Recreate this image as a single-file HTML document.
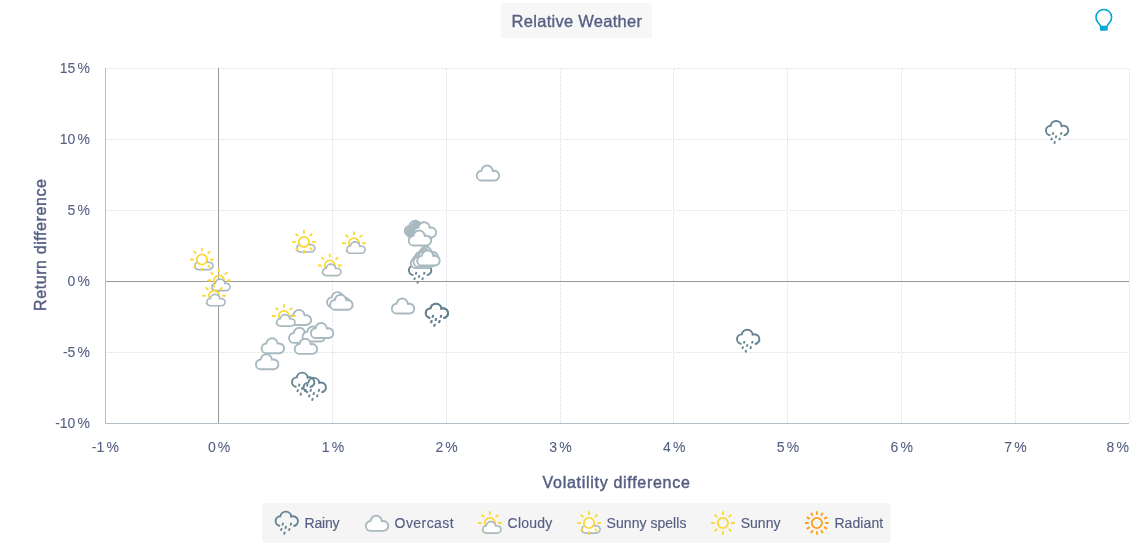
<!DOCTYPE html>
<html lang="en"><head><meta charset="utf-8"><title>Relative Weather</title>
<style>html,body{margin:0;padding:0;background:#fff}body{width:1147px;height:552px;overflow:hidden}svg{display:block}text{font-family:"Liberation Sans", Arial, sans-serif;fill:#545f83}.lg,.at{stroke:#545f83;stroke-width:.15px}.lg{font-size:14px}.at{font-size:16px;stroke-width:.45px}.ax{font-size:14px;word-spacing:-1.7px;stroke:#545f83;stroke-width:.08px}.gl{stroke:#e8e8ed;stroke-width:1;stroke-dasharray:3 1;fill:none}.oc{fill:#fff;stroke:#a9b9c0;stroke-width:1.9;stroke-linejoin:round}.sc{fill:#fff;stroke:#a9b9c0;stroke-width:1.6;stroke-linejoin:round}.rn{fill:none;stroke:#658392}.rc{stroke-width:1.9}.rd{stroke-width:1.85}.sn{fill:none;stroke:#fdd835;stroke-width:1.85}.wf{fill:#fff}.ra{fill:none;stroke:#fba21b;stroke-width:1.85}</style>
</head><body>
<svg width="1147" height="552" viewBox="0 0 1147 552">
<rect x="501" y="3" width="151" height="35" fill="#f7f7f7"/>
<text x="576.8" y="27" text-anchor="middle" font-size="16.5" textLength="130.4" lengthAdjust="spacing" stroke="#545f83" stroke-width="0.35">Relative Weather</text>
<g transform="translate(1103.8 17.3)"><path d="M-3.4 8.8C-3.6 7.2 -4.8 6.4 -6.2 4.7A7.8 7.8 0 1 1 6.2 4.7C4.8 6.4 3.6 7.2 3.4 8.8" fill="none" stroke="#00a8d6" stroke-width="1.6"/><path d="M-3.95 8.5h7.9v3.4a1.6 1.6 0 0 1 -1.6 1.6h-4.7a1.6 1.6 0 0 1 -1.6 -1.6z" fill="#00a8d6"/></g>
<path class="gl" d="M332.5 68 V423"/>
<path class="gl" d="M446.5 68 V423"/>
<path class="gl" d="M560.5 68 V423"/>
<path class="gl" d="M673.5 68 V423"/>
<path class="gl" d="M787.5 68 V423"/>
<path class="gl" d="M901.5 68 V423"/>
<path class="gl" d="M1015.5 68 V423"/>
<path class="gl" d="M1129.5 68 V423"/>
<path class="gl" d="M105 68.5 H1129"/>
<path class="gl" d="M105 139.5 H1129"/>
<path class="gl" d="M105 210.5 H1129"/>
<path class="gl" d="M105 352.5 H1129"/>
<path d="M218.5 68 V423" stroke="#999999" stroke-width="1" fill="none"/>
<path d="M105 281.5 H1129" stroke="#999999" stroke-width="1" fill="none"/>
<path d="M105.5 68 V424" stroke="#b3c0c8" stroke-width="1" fill="none"/>
<path d="M105 423.5 H1129" stroke="#b3c0c8" stroke-width="1" fill="none"/>
<text class="ax" x="90" y="72.9" text-anchor="end">15 %</text>
<text class="ax" x="90" y="143.9" text-anchor="end">10 %</text>
<text class="ax" x="90" y="214.9" text-anchor="end">5 %</text>
<text class="ax" x="90" y="285.9" text-anchor="end">0 %</text>
<text class="ax" x="90" y="356.9" text-anchor="end">-5 %</text>
<text class="ax" x="90" y="427.9" text-anchor="end">-10 %</text>
<text class="ax" x="105.3" y="452.1" text-anchor="middle">-1 %</text>
<text class="ax" x="219.1" y="452.1" text-anchor="middle">0 %</text>
<text class="ax" x="332.9" y="452.1" text-anchor="middle">1 %</text>
<text class="ax" x="446.6" y="452.1" text-anchor="middle">2 %</text>
<text class="ax" x="560.4" y="452.1" text-anchor="middle">3 %</text>
<text class="ax" x="674.2" y="452.1" text-anchor="middle">4 %</text>
<text class="ax" x="788.0" y="452.1" text-anchor="middle">5 %</text>
<text class="ax" x="901.7" y="452.1" text-anchor="middle">6 %</text>
<text class="ax" x="1015.5" y="452.1" text-anchor="middle">7 %</text>
<text class="ax" x="1129" y="452.1" text-anchor="end">8 %</text>
<text class="at" x="616.2" y="487.5" text-anchor="middle" textLength="147.2" lengthAdjust="spacing">Volatility difference</text>
<text class="at" transform="translate(45.6 245) rotate(-90)" text-anchor="middle" textLength="132" lengthAdjust="spacing">Return difference</text>
<g>
<g class="rn" transform="translate(1057.2 132.2)"><path class="rc" d="M-6.79 3.09A4.8 4.8 0 0 1 -6.54 -6.5A5.5 5.5 0 0 1 4.38 -6.19A4.85 4.85 0 1 1 6.44 3.14"/><path class="rd" d="M-3.75 0l-.8 2.6M4.4 0l-.8 2.6M-0.75 3.25l-.8 2.6M-5.2 5.45l-.8 2.6M2.8 5.45l-.8 2.6M-2.1 9l-.8 2.6"/></g>
<g class="rn" transform="translate(748.3 340.9)"><path class="rc" d="M-6.79 3.09A4.8 4.8 0 0 1 -6.54 -6.5A5.5 5.5 0 0 1 4.38 -6.19A4.85 4.85 0 1 1 6.44 3.14"/><path class="rd" d="M-3.75 0l-.8 2.6M4.4 0l-.8 2.6M-0.75 3.25l-.8 2.6M-5.2 5.45l-.8 2.6M2.8 5.45l-.8 2.6M-2.1 9l-.8 2.6"/></g>
<g class="rn" transform="translate(437 314.9)"><path class="rc" d="M-6.79 3.09A4.8 4.8 0 0 1 -6.54 -6.5A5.5 5.5 0 0 1 4.38 -6.19A4.85 4.85 0 1 1 6.44 3.14"/><path class="rd" d="M-3.75 0l-.8 2.6M4.4 0l-.8 2.6M-0.75 3.25l-.8 2.6M-5.2 5.45l-.8 2.6M2.8 5.45l-.8 2.6M-2.1 9l-.8 2.6"/></g>
<g class="rn" transform="translate(437 314.9)"><path class="rc" d="M-6.79 3.09A4.8 4.8 0 0 1 -6.54 -6.5A5.5 5.5 0 0 1 4.38 -6.19A4.85 4.85 0 1 1 6.44 3.14"/><path class="rd" d="M-3.75 0l-.8 2.6M4.4 0l-.8 2.6M-0.75 3.25l-.8 2.6M-5.2 5.45l-.8 2.6M2.8 5.45l-.8 2.6M-2.1 9l-.8 2.6"/></g>
<g class="rn" transform="translate(420.2 272)"><path class="rc" d="M-6.79 3.09A4.8 4.8 0 0 1 -6.54 -6.5A5.5 5.5 0 0 1 4.38 -6.19A4.85 4.85 0 1 1 6.44 3.14"/><path class="rd" d="M-3.75 0l-.8 2.6M4.4 0l-.8 2.6M-0.75 3.25l-.8 2.6M-5.2 5.45l-.8 2.6M2.8 5.45l-.8 2.6M-2.1 9l-.8 2.6"/></g>
<g class="rn" transform="translate(303.3 383.85)"><path class="rc" d="M-6.79 3.09A4.8 4.8 0 0 1 -6.54 -6.5A5.5 5.5 0 0 1 4.38 -6.19A4.85 4.85 0 1 1 6.44 3.14"/><path class="rd" d="M-3.75 0l-.8 2.6M4.4 0l-.8 2.6M-0.75 3.25l-.8 2.6M-5.2 5.45l-.8 2.6M2.8 5.45l-.8 2.6M-2.1 9l-.8 2.6"/></g>
<g class="rn" transform="translate(314.9 389.1)"><path class="rc" d="M-6.79 3.09A4.8 4.8 0 0 1 -6.54 -6.5A5.5 5.5 0 0 1 4.38 -6.19A4.85 4.85 0 1 1 6.44 3.14"/><path class="rd" d="M-3.75 0l-.8 2.6M4.4 0l-.8 2.6M-0.75 3.25l-.8 2.6M-5.2 5.45l-.8 2.6M2.8 5.45l-.8 2.6M-2.1 9l-.8 2.6"/></g>
</g><g>
<path class="oc" transform="translate(488 173)" d="M-6.3 7.55A4.9 4.9 0 0 1 -6.49 -2.25A5.6 5.6 0 0 1 4.7 -1.98A4.9 4.9 0 1 1 6.3 7.55Z"/>
<path class="oc" transform="translate(416 228.2)" d="M-6.3 7.55A4.9 4.9 0 0 1 -6.49 -2.25A5.6 5.6 0 0 1 4.7 -1.98A4.9 4.9 0 1 1 6.3 7.55Z"/>
<path class="oc" transform="translate(417.5 229.4)" d="M-6.3 7.55A4.9 4.9 0 0 1 -6.49 -2.25A5.6 5.6 0 0 1 4.7 -1.98A4.9 4.9 0 1 1 6.3 7.55Z"/>
<path class="oc" transform="translate(418.08 229.77)" d="M-6.3 7.55A4.9 4.9 0 0 1 -6.49 -2.25A5.6 5.6 0 0 1 4.7 -1.98A4.9 4.9 0 1 1 6.3 7.55Z"/>
<path class="oc" transform="translate(418.67 230.13)" d="M-6.3 7.55A4.9 4.9 0 0 1 -6.49 -2.25A5.6 5.6 0 0 1 4.7 -1.98A4.9 4.9 0 1 1 6.3 7.55Z"/>
<path class="oc" transform="translate(419.25 230.5)" d="M-6.3 7.55A4.9 4.9 0 0 1 -6.49 -2.25A5.6 5.6 0 0 1 4.7 -1.98A4.9 4.9 0 1 1 6.3 7.55Z"/>
<path class="oc" transform="translate(419.83 230.87)" d="M-6.3 7.55A4.9 4.9 0 0 1 -6.49 -2.25A5.6 5.6 0 0 1 4.7 -1.98A4.9 4.9 0 1 1 6.3 7.55Z"/>
<path class="oc" transform="translate(420.42 231.23)" d="M-6.3 7.55A4.9 4.9 0 0 1 -6.49 -2.25A5.6 5.6 0 0 1 4.7 -1.98A4.9 4.9 0 1 1 6.3 7.55Z"/>
<path class="oc" transform="translate(421 231.6)" d="M-6.3 7.55A4.9 4.9 0 0 1 -6.49 -2.25A5.6 5.6 0 0 1 4.7 -1.98A4.9 4.9 0 1 1 6.3 7.55Z"/>
<path class="oc" transform="translate(421.57 231.34)" d="M-6.3 7.55A4.9 4.9 0 0 1 -6.49 -2.25A5.6 5.6 0 0 1 4.7 -1.98A4.9 4.9 0 1 1 6.3 7.55Z"/>
<path class="oc" transform="translate(422.14 231.09)" d="M-6.3 7.55A4.9 4.9 0 0 1 -6.49 -2.25A5.6 5.6 0 0 1 4.7 -1.98A4.9 4.9 0 1 1 6.3 7.55Z"/>
<path class="oc" transform="translate(422.71 230.83)" d="M-6.3 7.55A4.9 4.9 0 0 1 -6.49 -2.25A5.6 5.6 0 0 1 4.7 -1.98A4.9 4.9 0 1 1 6.3 7.55Z"/>
<path class="oc" transform="translate(423.29 230.57)" d="M-6.3 7.55A4.9 4.9 0 0 1 -6.49 -2.25A5.6 5.6 0 0 1 4.7 -1.98A4.9 4.9 0 1 1 6.3 7.55Z"/>
<path class="oc" transform="translate(423.86 230.31)" d="M-6.3 7.55A4.9 4.9 0 0 1 -6.49 -2.25A5.6 5.6 0 0 1 4.7 -1.98A4.9 4.9 0 1 1 6.3 7.55Z"/>
<path class="oc" transform="translate(424.43 230.06)" d="M-6.3 7.55A4.9 4.9 0 0 1 -6.49 -2.25A5.6 5.6 0 0 1 4.7 -1.98A4.9 4.9 0 1 1 6.3 7.55Z"/>
<path class="oc" transform="translate(425 229.8)" d="M-6.3 7.55A4.9 4.9 0 0 1 -6.49 -2.25A5.6 5.6 0 0 1 4.7 -1.98A4.9 4.9 0 1 1 6.3 7.55Z"/>
<path class="oc" transform="translate(420 238)" d="M-6.3 7.55A4.9 4.9 0 0 1 -6.49 -2.25A5.6 5.6 0 0 1 4.7 -1.98A4.9 4.9 0 1 1 6.3 7.55Z"/>
<path class="oc" transform="translate(426.7 254.2)" d="M-6.3 7.55A4.9 4.9 0 0 1 -6.49 -2.25A5.6 5.6 0 0 1 4.7 -1.98A4.9 4.9 0 1 1 6.3 7.55Z"/>
<path class="oc" transform="translate(425.2 256.3)" d="M-6.3 7.55A4.9 4.9 0 0 1 -6.49 -2.25A5.6 5.6 0 0 1 4.7 -1.98A4.9 4.9 0 1 1 6.3 7.55Z"/>
<path class="oc" transform="translate(423.7 258.4)" d="M-6.3 7.55A4.9 4.9 0 0 1 -6.49 -2.25A5.6 5.6 0 0 1 4.7 -1.98A4.9 4.9 0 1 1 6.3 7.55Z"/>
<path class="oc" transform="translate(422.15 260.55)" d="M-6.3 7.55A4.9 4.9 0 0 1 -6.49 -2.25A5.6 5.6 0 0 1 4.7 -1.98A4.9 4.9 0 1 1 6.3 7.55Z"/>
<path class="oc" transform="translate(424.75 259.1)" d="M-6.3 7.55A4.9 4.9 0 0 1 -6.49 -2.25A5.6 5.6 0 0 1 4.7 -1.98A4.9 4.9 0 1 1 6.3 7.55Z"/>
<path class="oc" transform="translate(428.5 258)" d="M-6.3 7.55A4.9 4.9 0 0 1 -6.49 -2.25A5.6 5.6 0 0 1 4.7 -1.98A4.9 4.9 0 1 1 6.3 7.55Z"/>
<path class="oc" transform="translate(403.1 306)" d="M-6.3 7.55A4.9 4.9 0 0 1 -6.49 -2.25A5.6 5.6 0 0 1 4.7 -1.98A4.9 4.9 0 1 1 6.3 7.55Z"/>
<path class="oc" transform="translate(338.3 299.6)" d="M-6.3 7.55A4.9 4.9 0 0 1 -6.49 -2.25A5.6 5.6 0 0 1 4.7 -1.98A4.9 4.9 0 1 1 6.3 7.55Z"/>
<path class="oc" transform="translate(341.4 302.2)" d="M-6.3 7.55A4.9 4.9 0 0 1 -6.49 -2.25A5.6 5.6 0 0 1 4.7 -1.98A4.9 4.9 0 1 1 6.3 7.55Z"/>
<path class="oc" transform="translate(299.9 317.4)" d="M-6.3 7.55A4.9 4.9 0 0 1 -6.49 -2.25A5.6 5.6 0 0 1 4.7 -1.98A4.9 4.9 0 1 1 6.3 7.55Z"/>
<path class="oc" transform="translate(300.3 335.3)" d="M-6.3 7.55A4.9 4.9 0 0 1 -6.49 -2.25A5.6 5.6 0 0 1 4.7 -1.98A4.9 4.9 0 1 1 6.3 7.55Z"/>
<path class="oc" transform="translate(313.8 334)" d="M-6.3 7.55A4.9 4.9 0 0 1 -6.49 -2.25A5.6 5.6 0 0 1 4.7 -1.98A4.9 4.9 0 1 1 6.3 7.55Z"/>
<path class="oc" transform="translate(322.1 330.5)" d="M-6.3 7.55A4.9 4.9 0 0 1 -6.49 -2.25A5.6 5.6 0 0 1 4.7 -1.98A4.9 4.9 0 1 1 6.3 7.55Z"/>
<path class="oc" transform="translate(306 346.3)" d="M-6.3 7.55A4.9 4.9 0 0 1 -6.49 -2.25A5.6 5.6 0 0 1 4.7 -1.98A4.9 4.9 0 1 1 6.3 7.55Z"/>
<path class="oc" transform="translate(272.9 345.7)" d="M-6.3 7.55A4.9 4.9 0 0 1 -6.49 -2.25A5.6 5.6 0 0 1 4.7 -1.98A4.9 4.9 0 1 1 6.3 7.55Z"/>
<path class="oc" transform="translate(267.2 361.7)" d="M-6.3 7.55A4.9 4.9 0 0 1 -6.49 -2.25A5.6 5.6 0 0 1 4.7 -1.98A4.9 4.9 0 1 1 6.3 7.55Z"/>
</g><g>
<g transform="translate(354 243.2)"><g class="sn"><circle r="5.1"/><path d="M0 -8.2L0 -11.8M5.8 -5.8L8.34 -8.34M8.2 0L11.8 0M-5.8 5.8L-8.34 8.34M-8.2 0L-11.8 0M-5.8 -5.8L-8.34 -8.34"/></g><path class="sc" transform="translate(1.9 4.45)" d="M-5.17 5.66A4.02 3.68 0 0 1 -5.33 -1.68A4.59 4.2 0 0 1 3.85 -1.49A4.02 3.68 0 1 1 5.17 5.66Z"/></g>
<g transform="translate(329.8 265.5)"><g class="sn"><circle r="5.1"/><path d="M0 -8.2L0 -11.8M5.8 -5.8L8.34 -8.34M8.2 0L11.8 0M-5.8 5.8L-8.34 8.34M-8.2 0L-11.8 0M-5.8 -5.8L-8.34 -8.34"/></g><path class="sc" transform="translate(1.9 4.45)" d="M-5.17 5.66A4.02 3.68 0 0 1 -5.33 -1.68A4.59 4.2 0 0 1 3.85 -1.49A4.02 3.68 0 1 1 5.17 5.66Z"/></g>
<g transform="translate(219 280.5)"><g class="sn"><circle r="5.1"/><path d="M0 -8.2L0 -11.8M5.8 -5.8L8.34 -8.34M8.2 0L11.8 0M-5.8 5.8L-8.34 8.34M-8.2 0L-11.8 0M-5.8 -5.8L-8.34 -8.34"/></g><path class="sc" transform="translate(1.9 4.45)" d="M-5.17 5.66A4.02 3.68 0 0 1 -5.33 -1.68A4.59 4.2 0 0 1 3.85 -1.49A4.02 3.68 0 1 1 5.17 5.66Z"/></g>
<g transform="translate(214 295.7)"><g class="sn"><circle r="5.1"/><path d="M0 -8.2L0 -11.8M5.8 -5.8L8.34 -8.34M8.2 0L11.8 0M-5.8 5.8L-8.34 8.34M-8.2 0L-11.8 0M-5.8 -5.8L-8.34 -8.34"/></g><path class="sc" transform="translate(1.9 4.45)" d="M-5.17 5.66A4.02 3.68 0 0 1 -5.33 -1.68A4.59 4.2 0 0 1 3.85 -1.49A4.02 3.68 0 1 1 5.17 5.66Z"/></g>
<g transform="translate(283.9 316)"><g class="sn"><circle r="5.1"/><path d="M0 -8.2L0 -11.8M5.8 -5.8L8.34 -8.34M8.2 0L11.8 0M-5.8 5.8L-8.34 8.34M-8.2 0L-11.8 0M-5.8 -5.8L-8.34 -8.34"/></g><path class="sc" transform="translate(1.9 4.45)" d="M-5.17 5.66A4.02 3.68 0 0 1 -5.33 -1.68A4.59 4.2 0 0 1 3.85 -1.49A4.02 3.68 0 1 1 5.17 5.66Z"/></g>
</g><g>
<g transform="translate(303.9 241.9)"><path class="sc" transform="translate(1.9 4.45)" d="M-5.17 5.66A4.02 3.68 0 0 1 -5.33 -1.68A4.59 4.2 0 0 1 3.85 -1.49A4.02 3.68 0 1 1 5.17 5.66Z"/><g class="sn"><circle class="wf" r="5.1"/><path d="M0 -8.2L0 -11.8M5.8 -5.8L8.34 -8.34M8.2 0L11.8 0M5.8 5.8L8.34 8.34M0 8.2L0 11.8M-5.8 5.8L-8.34 8.34M-8.2 0L-11.8 0M-5.8 -5.8L-8.34 -8.34"/></g></g>
<g transform="translate(201.9 259.5)"><path class="sc" transform="translate(1.9 4.45)" d="M-5.17 5.66A4.02 3.68 0 0 1 -5.33 -1.68A4.59 4.2 0 0 1 3.85 -1.49A4.02 3.68 0 1 1 5.17 5.66Z"/><g class="sn"><circle class="wf" r="5.1"/><path d="M0 -8.2L0 -11.8M5.8 -5.8L8.34 -8.34M8.2 0L11.8 0M5.8 5.8L8.34 8.34M0 8.2L0 11.8M-5.8 5.8L-8.34 8.34M-8.2 0L-11.8 0M-5.8 -5.8L-8.34 -8.34"/></g></g>
</g>
<rect x="262" y="503" width="628.7" height="39.7" rx="3.5" fill="#f5f5f5"/>
<g class="rn" transform="translate(286.9 522.8)"><path class="rc" d="M-6.79 3.09A4.8 4.8 0 0 1 -6.54 -6.5A5.5 5.5 0 0 1 4.38 -6.19A4.85 4.85 0 1 1 6.44 3.14"/><path class="rd" d="M-3.75 0l-.8 2.6M4.4 0l-.8 2.6M-0.75 3.25l-.8 2.6M-5.2 5.45l-.8 2.6M2.8 5.45l-.8 2.6M-2.1 9l-.8 2.6"/></g>
<text class="lg" x="304.6" y="527.8" textLength="35.0" lengthAdjust="spacing">Rainy</text>
<path class="oc" transform="translate(377.1 523.3)" d="M-6.3 7.55A4.9 4.9 0 0 1 -6.49 -2.25A5.6 5.6 0 0 1 4.7 -1.98A4.9 4.9 0 1 1 6.3 7.55Z"/>
<text class="lg" x="394.6" y="527.8" textLength="59.0" lengthAdjust="spacing">Overcast</text>
<g transform="translate(489.9 523)"><g class="sn"><circle r="5.1"/><path d="M0 -8.2L0 -11.8M5.8 -5.8L8.34 -8.34M8.2 0L11.8 0M-5.8 5.8L-8.34 8.34M-8.2 0L-11.8 0M-5.8 -5.8L-8.34 -8.34"/></g><path class="sc" transform="translate(1.9 4.45)" d="M-5.17 5.66A4.02 3.68 0 0 1 -5.33 -1.68A4.59 4.2 0 0 1 3.85 -1.49A4.02 3.68 0 1 1 5.17 5.66Z"/></g>
<text class="lg" x="507.6" y="527.8" textLength="44.6" lengthAdjust="spacing">Cloudy</text>
<g transform="translate(589 523)"><path class="sc" transform="translate(1.9 4.45)" d="M-5.17 5.66A4.02 3.68 0 0 1 -5.33 -1.68A4.59 4.2 0 0 1 3.85 -1.49A4.02 3.68 0 1 1 5.17 5.66Z"/><g class="sn"><circle class="wf" r="5.1"/><path d="M0 -8.2L0 -11.8M5.8 -5.8L8.34 -8.34M8.2 0L11.8 0M5.8 5.8L8.34 8.34M0 8.2L0 11.8M-5.8 5.8L-8.34 8.34M-8.2 0L-11.8 0M-5.8 -5.8L-8.34 -8.34"/></g></g>
<text class="lg" x="606.6" y="527.8" textLength="79.8" lengthAdjust="spacing">Sunny spells</text>
<g class="sn" transform="translate(722.9 523)"><circle r="5.1"/><path d="M0 -8.2L0 -11.8M5.8 -5.8L8.34 -8.34M8.2 0L11.8 0M5.8 5.8L8.34 8.34M0 8.2L0 11.8M-5.8 5.8L-8.34 8.34M-8.2 0L-11.8 0M-5.8 -5.8L-8.34 -8.34"/></g>
<text class="lg" x="740.8" y="527.8" textLength="39.6" lengthAdjust="spacing">Sunny</text>
<g class="ra" transform="translate(816.9 523)"><circle r="5.1"/><path d="M0 -8.2L0 -11.8M4.1 -7.1L5.9 -10.22M7.1 -4.1L10.22 -5.9M8.2 0L11.8 0M7.1 4.1L10.22 5.9M4.1 7.1L5.9 10.22M0 8.2L0 11.8M-4.1 7.1L-5.9 10.22M-7.1 4.1L-10.22 5.9M-8.2 0L-11.8 0M-7.1 -4.1L-10.22 -5.9M-4.1 -7.1L-5.9 -10.22"/></g>
<text class="lg" x="834.4" y="527.8" textLength="48.8" lengthAdjust="spacing">Radiant</text>
</svg>
</body></html>
